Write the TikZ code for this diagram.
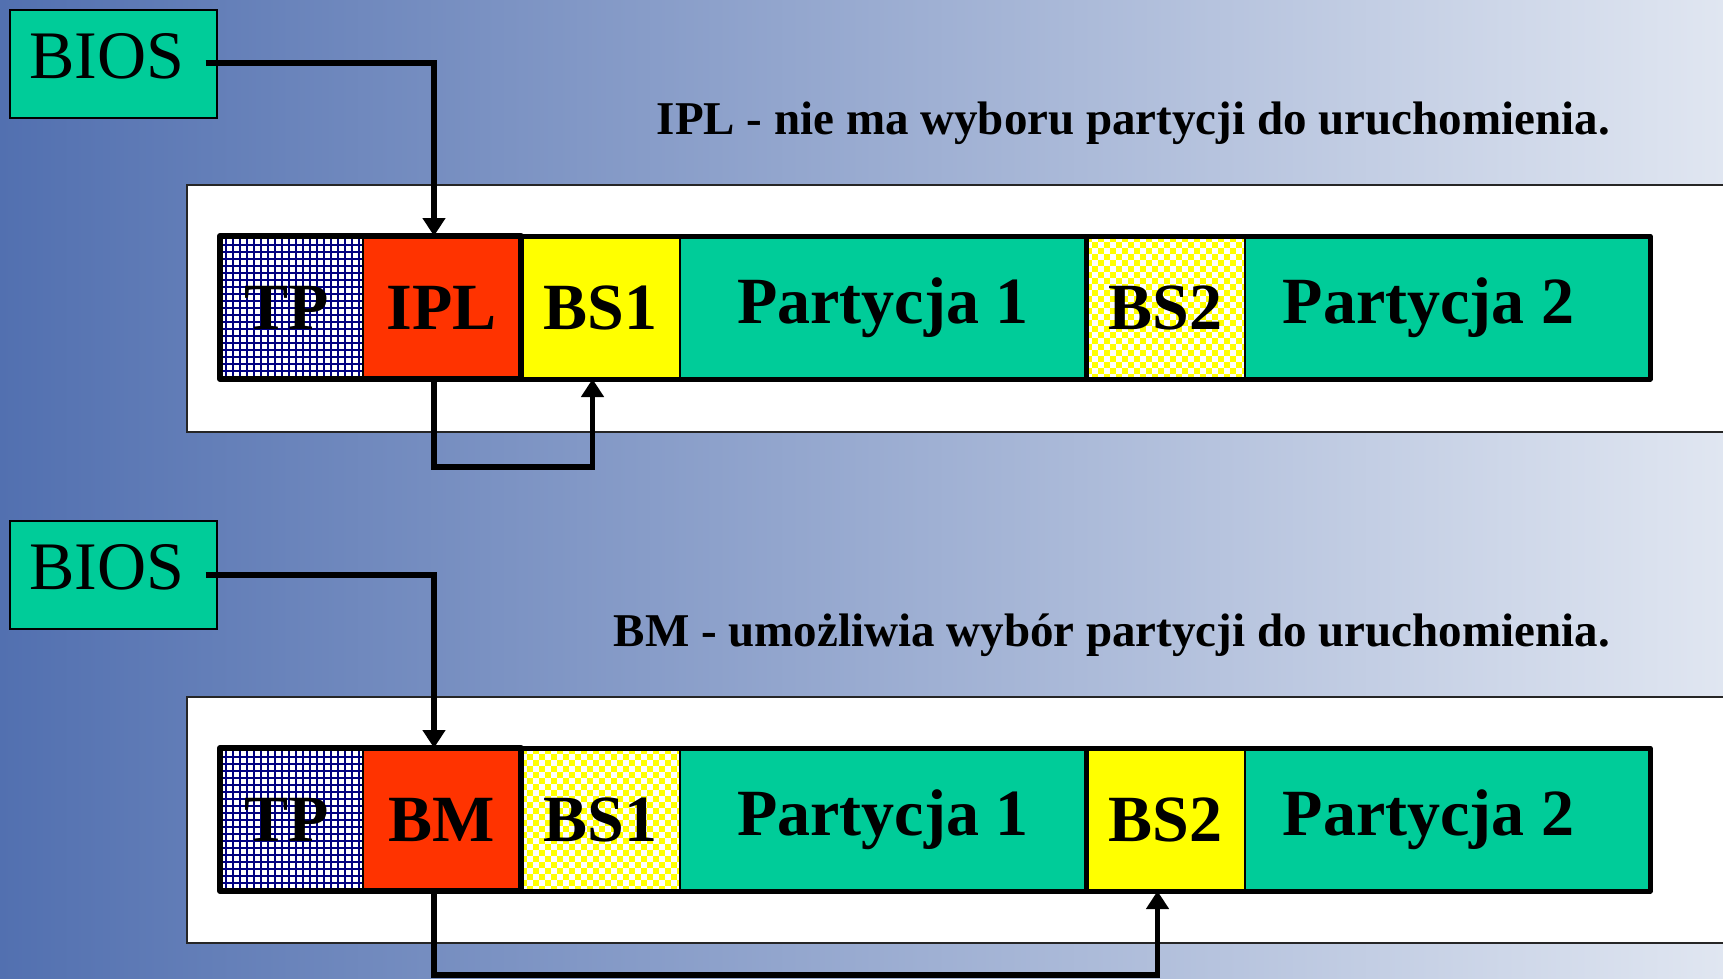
\documentclass[tikz,border=0pt]{standalone}
\usepackage{fontspec}
\setmainfont{Liberation Serif}
\usetikzlibrary{arrows.meta,calc}
\definecolor{bgL}{RGB}{82,112,176}
\definecolor{bgR}{RGB}{224,230,241}
\definecolor{grn}{RGB}{0,204,153}
\definecolor{redc}{RGB}{255,51,0}
\definecolor{yel}{RGB}{255,255,0}
\definecolor{navyc}{RGB}{0,0,128}
\begin{document}
\begin{tikzpicture}[x=1pt,y=-1pt,
  cell/.style={draw=black, line width=1.5pt, minimum height=143pt, inner sep=0pt, outer sep=0pt,
    anchor=north west, font=\fontsize{66}{70}\selectfont\bfseries, text=black},
  tppat/.style={fill=white, path picture={
    \draw[navyc, line width=2pt, step=7pt] (path picture bounding box.south west) grid (path picture bounding box.north east);}},
  checker/.style={fill=white, path picture={
    \foreach \ii in {0,...,29}{\foreach \jj in {0,...,26}{
      \pgfmathtruncatemacro{\kk}{mod(\ii+\jj,2)}
      \ifnum\kk=0 \fill[yel] ([xshift=\ii*6pt, yshift=-\jj*6pt]path picture bounding box.north west) rectangle ++(6,6); \fi
    }}}},
  bios/.style={draw=black, line width=1.5pt, fill=grn, minimum width=207pt, minimum height=108pt,
    inner sep=0pt, anchor=north west, font=\fontsize{68}{72}\selectfont},
  panel/.style={draw=black!85, line width=1.5pt, fill=white},
  title/.style={font=\fontsize{47}{52}\selectfont\bfseries, anchor=base east, inner sep=0pt},
  conn/.style={line width=5.5pt, draw=black},
  tip/.style={-{Triangle[width=22pt,length=18pt]}},
  group/.style={line width=6pt, line join=round, draw=black}
]
\useasboundingbox (0,0) rectangle (1723,978);
\clip (0,0) rectangle (1723,978);
\shade[left color=bgL, right color=bgR] (0,0) rectangle (1723,978);

% panels
\path[panel] (187,185) rectangle (1740,432);
\path[panel] (187,697) rectangle (1740,943);

% BIOS boxes
\node[bios] (biosA) at (9,9) {\raisebox{7pt}[\height][\depth]{BIOS}\hspace*{13pt}};
\node[bios] (biosB) at (9,520) {\raisebox{7pt}[\height][\depth]{BIOS}\hspace*{13pt}};

% titles
\node[title] (titleA) at (1610,134) {IPL - nie ma wyboru partycji do uruchomienia.};
\node[title] (titleB) at (1610,646) {BM - umożliwia wybór partycji do uruchomienia.};

% top bar
\node[cell, tppat, minimum width=143pt] (tpA) at (220,236) {\hspace*{-10pt}TP};
\node[cell, fill=redc, minimum width=158pt] (iplA) at (363,236) {IPL};
\node[cell, fill=yel, minimum width=159pt] (bs1A) at (521,236) {BS1};
\node[cell, fill=grn, minimum width=406pt] (p1A) at (680,236) {Partycja 1};
\node[cell, checker, minimum width=159pt] (bs2A) at (1086,236) {BS2};
\node[cell, fill=grn, minimum width=405pt] (p2A) at (1245,236) {\hspace*{-38pt}Partycja 2};
\draw[group] (tpA.north west) rectangle (iplA.south east);
\draw[group, line width=5pt] (bs1A.north west) rectangle (p1A.south east);
\draw[group, line width=5pt] (bs2A.north west) rectangle (p2A.south east);

% bottom bar
\node[cell, tppat, minimum width=143pt] (tpB) at (220,748) {\hspace*{-10pt}TP};
\node[cell, fill=redc, minimum width=158pt] (bmB) at (363,748) {BM};
\node[cell, checker, minimum width=159pt] (bs1B) at (521,748) {BS1};
\node[cell, fill=grn, minimum width=406pt] (p1B) at (680,748) {Partycja 1};
\node[cell, fill=yel, minimum width=159pt] (bs2B) at (1086,748) {BS2};
\node[cell, fill=grn, minimum width=405pt] (p2B) at (1245,748) {\hspace*{-38pt}Partycja 2};
\draw[group] (tpB.north west) rectangle (bmB.south east);
\draw[group, line width=5pt] (bs1B.north west) rectangle (p1B.south east);
\draw[group, line width=5pt] (bs2B.north west) rectangle (p2B.south east);

% connectors
\draw[conn, tip] ([xshift=-12pt, yshift=1pt]biosA.east) -| ([xshift=-8pt]iplA.north);
\draw[conn, tip] ([xshift=-8pt]iplA.south) -- ++(0,88) -| ([xshift=-8pt]bs1A.south);
\draw[conn, tip] ([xshift=-12pt, yshift=0pt]biosB.east) -| ([xshift=-8pt]bmB.north);
\draw[conn, tip] ([xshift=-8pt]bmB.south) -- ++(0,84) -| ([xshift=-8pt]bs2B.south);
\end{tikzpicture}
\end{document}
